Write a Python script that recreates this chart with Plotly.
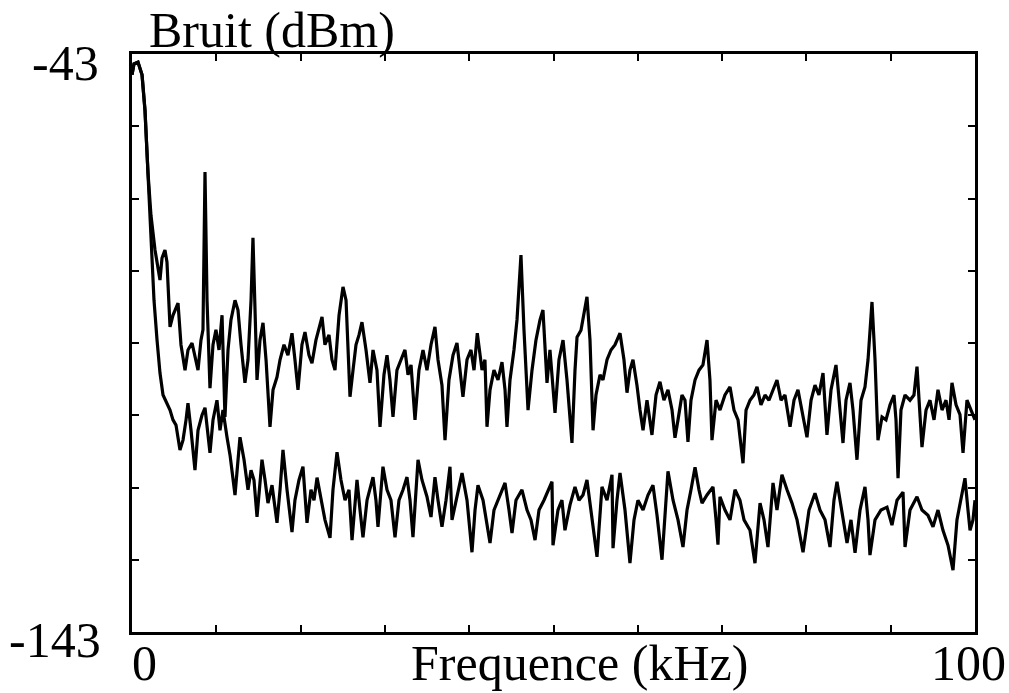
import plotly.graph_objects as go

# Upper trace (kHz, dBm)
f_upper = [0, 0.24, 0.71, 1.19, 1.54, 1.9, 2.25, 2.73, 3.32, 3.56, 3.91, 4.15, 4.51, 4.86, 5.46, 5.81,
           6.29, 6.64, 7.12, 7.47, 7.83, 8.18, 8.42, 8.66, 8.9, 9.25, 9.61, 9.96, 10.32, 10.68, 11.03,
           11.39, 11.74, 12.22, 12.57, 12.93, 13.4, 13.76, 14.12, 14.35, 14.59, 14.83, 15.18, 15.54,
           15.9, 16.37, 16.73, 17.2, 17.56, 18.03, 18.5, 18.98, 19.33, 19.69, 20.16, 20.52, 20.99,
           21.35, 21.82, 22.18, 22.54, 22.89, 23.37, 23.72, 24.08, 24.56, 25.03, 25.39, 25.86, 26.22,
           26.57, 26.93, 27.28, 27.76, 28.23, 28.59, 29.06, 29.42, 29.89, 30.25, 30.6, 30.96, 31.43,
           31.91, 32.38, 32.74, 33.1, 33.57, 34.04, 34.52, 34.99, 35.47, 35.94, 36.3, 36.77, 37.13,
           37.6, 38.08, 38.55, 38.91, 39.26, 39.74, 40.21, 40.57, 40.96, 41.52, 41.87, 42.11, 42.47,
           42.94, 43.42, 43.89, 44.25, 44.48, 44.84, 45.31, 45.67, 46.14, 46.5, 46.98, 47.45, 47.92,
           48.4, 48.75, 49.23, 49.58, 50.18, 50.65, 51.13, 51.6, 52.19, 52.55, 52.79, 53.26, 53.62,
           53.97, 54.33, 54.69, 55.04, 55.52, 55.87, 56.35, 56.82, 57.3, 57.89, 58.36, 58.72, 59.07,
           59.43, 59.9, 60.26, 60.62, 61.09, 61.68, 62.16, 62.63, 63.1, 63.58, 64.06, 64.41, 64.77,
           65.24, 65.6, 65.95, 66.31, 66.79, 67.26, 67.73, 68.21, 68.56, 68.8, 69.28, 69.75, 70.34,
           70.94, 71.41, 71.89, 72.48, 72.84, 73.31, 73.78, 74.14, 74.61, 75.09, 75.56, 76.04, 76.51,
           76.99, 77.46, 78.06, 78.53, 79.0, 79.48, 80.07, 80.55, 81.02, 81.49, 81.97, 82.44, 82.92,
           83.51, 83.87, 84.34, 84.7, 85.17, 85.53, 86.0, 86.48, 86.95, 87.31, 87.78, 88.14, 88.49,
           88.97, 89.44, 89.92, 90.39, 90.63, 90.87, 91.22, 91.7, 92.29, 92.76, 93.12, 93.48, 93.71,
           94.19, 94.66, 95.14, 95.61, 96.09, 96.56, 96.92, 97.27, 97.75, 98.22, 98.58, 99.05, 99.53, 100.0]
db_upper = [-46.6, -44.7, -44.4, -46.6, -52.7, -63.6, -70.9, -76.9, -82.1, -78.3, -76.9, -79.0, -90.2, -88.2, -86.1, -93.3,
            -97.7, -94.2, -93.0, -95.1, -97.7, -92.5, -90.7, -63.4, -85.6, -100.8, -93.3, -90.7, -94.2, -88.2, -105.8,
            -94.2, -89.0, -85.6, -87.3, -93.3, -99.9, -95.9, -85.6, -74.8, -85.6, -99.4, -92.5, -89.5,
            -95.9, -107.5, -101.1, -98.9, -95.9, -93.3, -95.1, -91.3, -95.9, -101.1, -93.3, -91.1, -95.1,
            -96.5, -92.5, -90.7, -88.5, -93.3, -91.6, -95.9, -97.7, -88.2, -83.3, -85.6, -102.3, -97.7,
            -93.3, -91.6, -89.4, -94.2, -99.9, -94.2, -97.7, -107.5, -98.5, -95.1, -99.4, -105.8, -97.7,
            -95.9, -94.2, -98.5, -96.8, -106.3, -97.7, -94.2, -97.7, -93.3, -90.2, -95.9, -100.3, -109.8,
            -99.4, -95.1, -93.0, -97.7, -102.3, -95.9, -94.2, -97.7, -91.3, -97.7, -95.9, -107.5, -101.1,
            -97.7, -99.4, -96.3, -101.1, -107.5, -99.4, -94.2, -89.0, -77.8, -90.8, -104.6, -97.7, -92.5,
            -89.0, -87.3, -99.9, -94.2, -105.1, -95.9, -92.5, -99.4, -110.3, -97.7, -92.0, -90.8, -88.2,
            -85.0, -92.5, -108.1, -102.0, -98.5, -99.4, -95.9, -94.2, -93.3, -91.3, -95.9, -101.6, -97.7,
            -95.9, -100.3, -104.6, -108.1, -102.9, -108.9, -102.0, -99.7, -102.9, -101.1, -104.6, -109.4, -106.3,
            -102.0, -102.9, -110.1, -102.9, -99.4, -97.7, -96.8, -92.5, -99.4, -109.8, -102.9, -104.6, -102.0,
            -100.6, -104.6, -106.3, -113.8, -104.6, -102.9, -102.0, -100.6, -103.7, -102.0, -102.9, -101.1, -99.4,
            -102.9, -102.0, -107.5, -102.9, -101.1, -104.6, -109.3, -102.9, -100.3, -102.0, -98.2, -108.9, -101.1,
            -96.8, -102.9, -110.3, -102.9, -99.9, -104.6, -113.2, -102.9, -100.6, -95.9, -85.9, -95.9, -109.8,
            -105.8, -106.3, -103.7, -102.0, -106.3, -116.4, -104.6, -102.0, -102.9, -102.0, -97.1, -104.6, -111.0,
            -104.6, -102.9, -106.3, -101.1, -104.6, -102.9, -106.3, -99.9, -103.7, -105.4, -112.0, -102.9, -104.6, -106.3]

# Lower trace (kHz, dBm)
f_lower = [0, 0.24, 0.71, 1.19, 1.54, 1.9, 2.25, 2.61, 2.97, 3.32, 3.68, 4.15, 4.51, 4.86, 5.22, 5.69,
           6.05, 6.41, 6.64, 7.0, 7.47, 7.83, 8.3, 8.66, 9.02, 9.25, 9.61, 10.08, 10.44, 10.79, 11.27,
           11.63, 12.22, 12.57, 12.81, 13.29, 13.76, 14.12, 14.47, 14.83, 15.42, 15.78, 16.13, 16.61,
           17.2, 17.56, 17.91, 18.39, 18.98, 19.33, 19.81, 20.28, 20.76, 21.23, 21.59, 21.95, 22.42,
           22.89, 23.49, 23.84, 24.32, 24.79, 25.27, 25.74, 26.1, 26.69, 27.05, 27.4, 27.88, 28.23,
           28.59, 28.94, 29.18, 29.77, 30.25, 30.72, 31.2, 31.67, 32.15, 32.62, 32.98, 33.33, 33.69,
           33.93, 34.4, 34.99, 35.47, 35.94, 36.3, 36.77, 37.25, 37.72, 37.96, 38.55, 39.15, 39.74,
           40.33, 40.69, 41.04, 41.64, 41.99, 42.47, 42.94, 43.65, 44.25, 44.72, 45.08, 45.55, 46.26,
           46.86, 47.33, 47.81, 48.28, 48.87, 49.35, 49.82, 49.94, 50.53, 51.0, 51.36, 51.96, 52.55,
           53.02, 53.5, 53.97, 54.57, 55.16, 55.75, 56.35, 56.94, 57.06, 57.53, 57.89, 58.48, 59.07,
           59.55, 60.02, 60.62, 61.21, 61.8, 62.28, 62.87, 63.23, 63.58, 64.18, 64.77, 65.36, 65.84,
           66.31, 66.79, 67.26, 67.62, 68.21, 68.92, 69.28, 69.51, 69.75, 70.34, 70.94, 71.53, 72.12,
           72.6, 73.31, 73.9, 74.5, 74.97, 75.44, 76.04, 76.51, 77.1, 77.7, 78.29, 78.89, 79.6,
           80.31, 81.02, 81.61, 82.21, 82.8, 83.27, 83.63, 84.22, 84.82, 85.29, 85.77, 86.36, 86.95,
           87.31, 87.54, 88.14, 88.85, 89.56, 90.15, 90.75, 91.46, 91.7, 92.29, 93.12, 93.71, 94.42,
           95.02, 95.61, 96.2, 96.8, 97.39, 97.86, 98.34, 98.81, 99.17, 99.41, 99.76, 100.0]
db_lower = [-46.6, -44.7, -44.4, -46.6, -52.7, -63.6, -75.2, -85.6, -92.5, -98.2, -102.0, -103.4, -104.6, -106.3, -107.2, -111.5,
            -109.8, -106.3, -103.4, -108.1, -115.0, -108.1, -105.5, -104.2, -109.8, -112.0, -106.3, -102.9, -108.1, -104.6, -109.3,
            -112.4, -119.3, -113.2, -109.3, -113.2, -118.4, -115.0, -116.7, -123.1, -113.2, -116.7, -120.7, -117.6,
            -124.1, -118.4, -111.5, -118.4, -125.7, -120.2, -116.7, -114.4, -124.1, -118.4, -120.2, -116.3, -120.2,
            -123.6, -126.7, -118.4, -111.9, -116.7, -120.2, -118.4, -127.1, -116.7, -121.9, -126.6, -120.2, -118.4,
            -116.2, -120.2, -124.8, -114.4, -118.4, -120.2, -126.6, -120.2, -118.4, -116.2, -120.2, -126.6, -118.4,
            -113.2, -116.7, -119.6, -123.1, -116.2, -120.2, -124.8, -120.2, -114.4, -123.6, -119.3, -115.5, -120.2,
            -129.2, -121.9, -117.6, -120.2, -123.6, -127.6, -121.9, -119.3, -117.2, -121.9, -125.9, -120.2, -118.4,
            -121.9, -123.6, -127.1, -121.9, -120.2, -118.4, -117.0, -128.0, -121.9, -120.2, -125.4, -121.0, -117.9,
            -120.2, -119.3, -116.7, -123.6, -130.0, -117.9, -120.2, -115.8, -128.5, -120.2, -115.5, -121.9, -131.1,
            -123.6, -120.2, -121.9, -119.3, -117.6, -122.8, -130.5, -121.9, -115.2, -120.2, -123.6, -128.3, -121.9,
            -118.4, -114.5, -118.4, -120.7, -119.3, -117.9, -123.6, -127.9, -119.6, -121.9, -123.6, -118.4, -120.2,
            -123.6, -125.4, -131.1, -120.7, -123.6, -128.3, -117.2, -121.9, -115.8, -118.4, -120.7, -123.6, -129.2,
            -121.9, -119.0, -121.9, -123.6, -128.3, -120.2, -117.0, -121.9, -127.6, -123.6, -129.3, -121.9, -117.9,
            -123.6, -129.7, -123.6, -121.9, -121.4, -124.5, -120.2, -118.8, -128.3, -121.9, -119.6, -121.9, -122.8,
            -124.8, -121.9, -125.4, -128.0, -132.3, -123.6, -120.2, -116.4, -121.9, -125.4, -123.6, -120.2]

x_range = [0, 100]
y_range = [-143, -43]
x_title = "Frequence (kHz)"
y_title = "Bruit (dBm)"

FONT = "Liberation Serif"
FS = 50

fig = go.Figure()
fig.add_trace(go.Scatter(x=f_upper, y=db_upper, mode="lines",
                         line=dict(color="black", width=3.2), showlegend=False))
fig.add_trace(go.Scatter(x=f_lower, y=db_lower, mode="lines",
                         line=dict(color="black", width=3.2), showlegend=False))

fig.update_xaxes(range=x_range, tick0=0, dtick=10, ticks="inside", ticklen=7, tickwidth=2,
                 tickcolor="black", showline=True, linewidth=3, linecolor="black", mirror="ticks",
                 showgrid=False, zeroline=False, showticklabels=False)
fig.update_yaxes(range=y_range, tick0=-143, dtick=12.5, ticks="inside", ticklen=7, tickwidth=2,
                 tickcolor="black", showline=True, linewidth=3, linecolor="black", mirror="ticks",
                 showgrid=False, zeroline=False, showticklabels=False)

font = dict(family=FONT, size=FS, color="black")
ann = [
    dict(text=str(y_range[1]), x=-0.037, y=0.984, xanchor="right", yanchor="middle"),
    dict(text=str(y_range[0]), x=-0.034, y=-0.014, xanchor="right", yanchor="middle"),
    dict(text=str(x_range[0]), x=0.0154, y=-0.053, xanchor="center", yanchor="middle"),
    dict(text=str(x_range[1]), x=0.992, y=-0.053, xanchor="center", yanchor="middle"),
    dict(text=x_title, x=0.531, y=-0.053, xanchor="center", yanchor="middle"),
    dict(text=y_title, x=0.018, y=1.041, xanchor="left", yanchor="middle"),
]
for a in ann:
    fig.add_annotation(xref="paper", yref="paper", showarrow=False, font=font, **a)

fig.update_layout(width=1009, height=693, margin=dict(l=132, r=34, t=54, b=61),
                  paper_bgcolor="white", plot_bgcolor="white")
fig.write_html("out.html", config={"displayModeBar": False},
               post_script="document.body.style.margin='0';document.body.style.overflow='hidden';")
